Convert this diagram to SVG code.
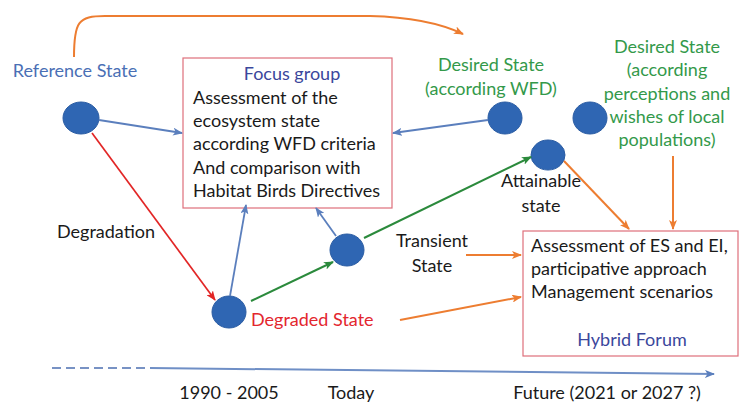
<svg xmlns="http://www.w3.org/2000/svg" width="740" height="403" viewBox="0 0 740 403">
<style>
text{font-family:Lato,"Open Sans","Liberation Sans",sans-serif;font-size:18px;}
.blk{fill:#1a1a1a;}
.bl{fill:#4a6fb5;}
.dbl{fill:#3b479c;}
.gr{fill:#33994a;}
.rd{fill:#e3262e;}
.box{fill:#fff;stroke:#de6f7b;stroke-width:1.2;}
.node{fill:#2f66b3;stroke:#2a5ca3;stroke-width:1;}
.c{text-anchor:middle;}
.ab{stroke:#5b7fbd;stroke-width:1.8;fill:none;marker-end:url(#mb);}
.ag{stroke:#2b8a3c;stroke-width:2;fill:none;marker-end:url(#mg);}
.ar{stroke:#e22626;stroke-width:1.7;fill:none;marker-end:url(#mr);}
.ao{stroke:#ed7d31;stroke-width:2;fill:none;marker-end:url(#mo);}
</style>
<defs>
<marker id="mb" markerWidth="10" markerHeight="8" refX="9" refY="4" orient="auto" markerUnits="userSpaceOnUse"><path d="M0,0 L10,4 L0,8 L2.5,4 Z" fill="#5b7fbd"/></marker>
<marker id="mg" markerWidth="10" markerHeight="8" refX="9" refY="4" orient="auto" markerUnits="userSpaceOnUse"><path d="M0,0 L10,4 L0,8 L2.5,4 Z" fill="#2b8a3c"/></marker>
<marker id="mr" markerWidth="10" markerHeight="8" refX="9" refY="4" orient="auto" markerUnits="userSpaceOnUse"><path d="M0,0 L10,4 L0,8 L2.5,4 Z" fill="#e22626"/></marker>
<marker id="mo" markerWidth="10" markerHeight="8" refX="9" refY="4" orient="auto" markerUnits="userSpaceOnUse"><path d="M0,0 L10,4 L0,8 L2.5,4 Z" fill="#ed7d31"/></marker>
</defs>
<rect width="740" height="403" fill="#fff"/>

<g id="focus-group">
<rect class="box" x="183" y="58" width="209" height="150"/>
<text class="dbl c" x="292" y="80">Focus group</text>
<text class="blk" x="193" y="104">Assessment of the</text>
<text class="blk" x="193" y="127">ecosystem state</text>
<text class="blk" x="193" y="150">according WFD criteria</text>
<text class="blk" x="193" y="174">And comparison with</text>
<text class="blk" x="193" y="197">Habitat Birds Directives</text>
</g>

<g id="hybrid-forum">
<rect class="box" x="523" y="231" width="215" height="125"/>
<text class="blk" x="531" y="252">Assessment of ES and EI,</text>
<text class="blk" x="531" y="275">participative approach</text>
<text class="blk" x="531" y="298">Management scenarios</text>
<text class="dbl c" x="632" y="346">Hybrid Forum</text>
</g>

<g id="reference-state">
<ellipse class="node" cx="81" cy="118" rx="18" ry="16"/>
<text class="bl c" x="75" y="77">Reference State</text>
</g>

<g id="desired-wfd">
<ellipse class="node" cx="505" cy="118" rx="17" ry="16"/>
<text class="gr c" x="491" y="71">Desired State</text>
<text class="gr c" x="491" y="95">(according WFD)</text>
</g>

<g id="desired-local">
<ellipse class="node" cx="590" cy="118" rx="17" ry="16"/>
<text class="gr c" x="667" y="53">Desired State</text>
<text class="gr c" x="667" y="76">(according</text>
<text class="gr c" x="667" y="100">perceptions and</text>
<text class="gr c" x="667" y="123">wishes of local</text>
<text class="gr c" x="667" y="146">populations)</text>
</g>

<g id="attainable-state">
<ellipse class="node" cx="548" cy="155" rx="17" ry="15"/>
<text class="blk c" x="541" y="187">Attainable</text>
<text class="blk c" x="541" y="212">state</text>
</g>

<g id="transient-state">
<ellipse class="node" cx="347" cy="250" rx="17" ry="16"/>
<text class="blk c" x="432" y="247">Transient</text>
<text class="blk c" x="432" y="272">State</text>
</g>

<g id="degraded-state">
<ellipse class="node" cx="229" cy="312" rx="17" ry="16"/>
<text class="rd" x="251" y="326">Degraded State</text>
</g>

<g id="labels">
<text class="blk c" x="106" y="238">Degradation</text>
<text class="blk c" x="229" y="399">1990 - 2005</text>
<text class="blk c" x="351" y="399">Today</text>
<text class="blk c" x="607" y="399">Future (2021 or 2027 ?)</text>
</g>

<g id="connectors">
<path class="ao" d="M74,57 C74,22 78,16 105,16 L370,16 C410,17 440,23 463,34" stroke-width="2.3"/>
<path class="ab" d="M99,120 L182,133"/>
<path class="ab" d="M488,120 L393,133"/>
<path class="ar" d="M92,133 L215,300"/>
<path class="ab" d="M230,296 L246,205"/>
<path class="ab" d="M336,236 L316,208"/>
<path class="ag" d="M251,301 L333,262"/>
<path class="ag" d="M364,238 L531,157"/>
<path class="ao" d="M564,161 L629,229"/>
<path class="ao" d="M673,156 L673,229"/>
<path class="ao" d="M466,255 L521,255"/>
<path class="ao" d="M400,320 L521,297"/>
<path d="M52,368 L150,368" stroke="#7892c4" stroke-width="2.2" stroke-dasharray="9,5" fill="none"/>
<path d="M150,368 L714,374" stroke="#6f8fc6" stroke-width="2" fill="none" marker-end="url(#mb)"/>
</g>
</svg>
